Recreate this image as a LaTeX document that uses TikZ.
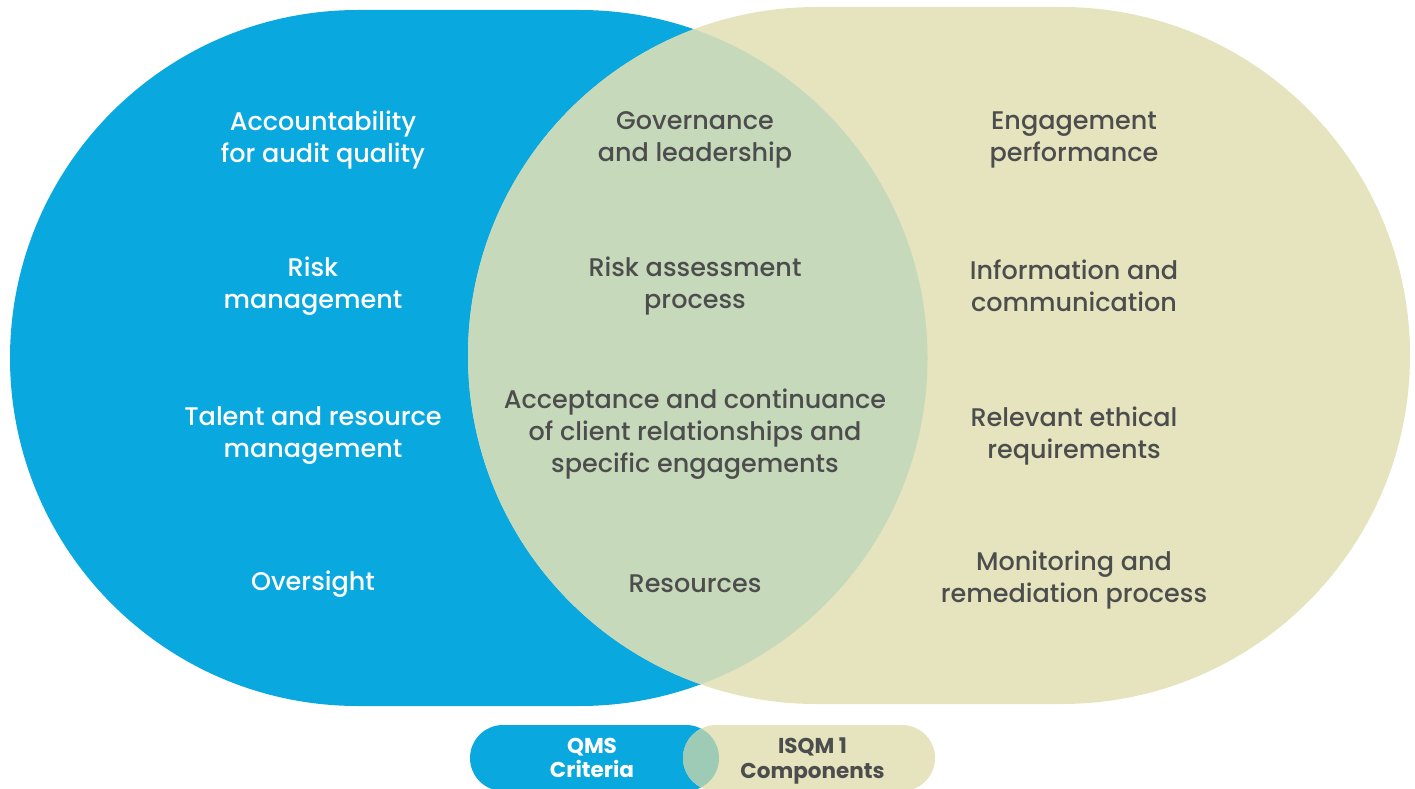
\documentclass[tikz,border=0pt]{standalone}
\usepackage{fontspec}
\setmainfont{Poppins}
\newfontfamily\medfont{Poppins Medium}
\usetikzlibrary{positioning}

\definecolor{qmsblue}{HTML}{09A8DF}
\definecolor{isqmtan}{HTML}{E5E4BE}
\definecolor{bothgreen}{HTML}{C6D9BA}
\definecolor{keygreen}{HTML}{9ECBB5}
\definecolor{textgrey}{HTML}{4D4D4D}

\tikzset{
  item text/.style={align=center, inner sep=0pt, font=\medfont\fontsize{25.5}{32}\selectfont},
  qms text/.style={item text, text=white},
  isqm text/.style={item text, text=textgrey},
  key text/.style={align=center, inner sep=0pt, font=\bfseries\fontsize{21.5}{24.5}\selectfont},
}

\begin{document}
\begin{tikzpicture}[x=1pt, y=1pt]

\useasboundingbox (0,0) rectangle (1415,788);

% the two big shapes
\fill [qmsblue] (358,778) -- (579.5,778) arc [start angle=90, end angle=-90, radius=348]
  -- (358,82) arc [start angle=270, end angle=90, radius=348] -- cycle;
\fill [isqmtan] (816.5,781) -- (1061.5,781) arc [start angle=90, end angle=-90, radius=348.5]
  -- (816.5,84) arc [start angle=270, end angle=90, radius=348.5] -- cycle;
\begin{scope}
  \clip (358,778) -- (579.5,778) arc [start angle=90, end angle=-90, radius=348]
    -- (358,82) arc [start angle=270, end angle=90, radius=348] -- cycle;
  \fill [bothgreen] (816.5,781) -- (1061.5,781) arc [start angle=90, end angle=-90, radius=348.5]
    -- (816.5,84) arc [start angle=270, end angle=90, radius=348.5] -- cycle;
\end{scope}

% key
\fill [qmsblue] (503,63) -- (686,63) arc [start angle=90, end angle=-90, radius=33]
  -- (503,-3) arc [start angle=270, end angle=90, radius=33] -- cycle;
\fill [isqmtan] (716,63) -- (902,63) arc [start angle=90, end angle=-90, radius=33]
  -- (716,-3) arc [start angle=270, end angle=90, radius=33] -- cycle;
\begin{scope}
  \clip (503,63) -- (686,63) arc [start angle=90, end angle=-90, radius=33]
    -- (503,-3) arc [start angle=270, end angle=90, radius=33] -- cycle;
  \fill [keygreen] (716,63) -- (902,63) arc [start angle=90, end angle=-90, radius=33]
    -- (716,-3) arc [start angle=270, end angle=90, radius=33] -- cycle;
\end{scope}

\foreach \x/\y/\t [count=\i] in {323/648/{Accountability\\for audit quality},
    313/502/{Risk\\management}, 313/352/{Talent and resource\\management},
    313/204/{Oversight}}
  \node [qms text] (qms-\i) at (\x,\y) {\t};

\foreach \y/\t [count=\i] in {648/{Governance\\and leadership},
    502/{Risk assessment\\process},
    354/{Acceptance and continuance\\of client relationships and\\specific engagements},
    204/{Resources}}
  \node [isqm text] (both-\i) at (695,\y) {\t};

\foreach \y/\t [count=\i] in {648/{Engagement\\performance},
    502/{Information and\\communication}, 352/{Relevant ethical\\requirements},
    208/{Monitoring and\\remediation process}}
  \node [isqm text] (isqm-\i) at (1074,\y) {\t};

\node [key text, text=white] (key-qms) at (592,30) {QMS\\Criteria};
\node [key text, text=textgrey] (key-isqm) at (812.5,27) {ISQM 1\\Components};

\end{tikzpicture}
\end{document}
